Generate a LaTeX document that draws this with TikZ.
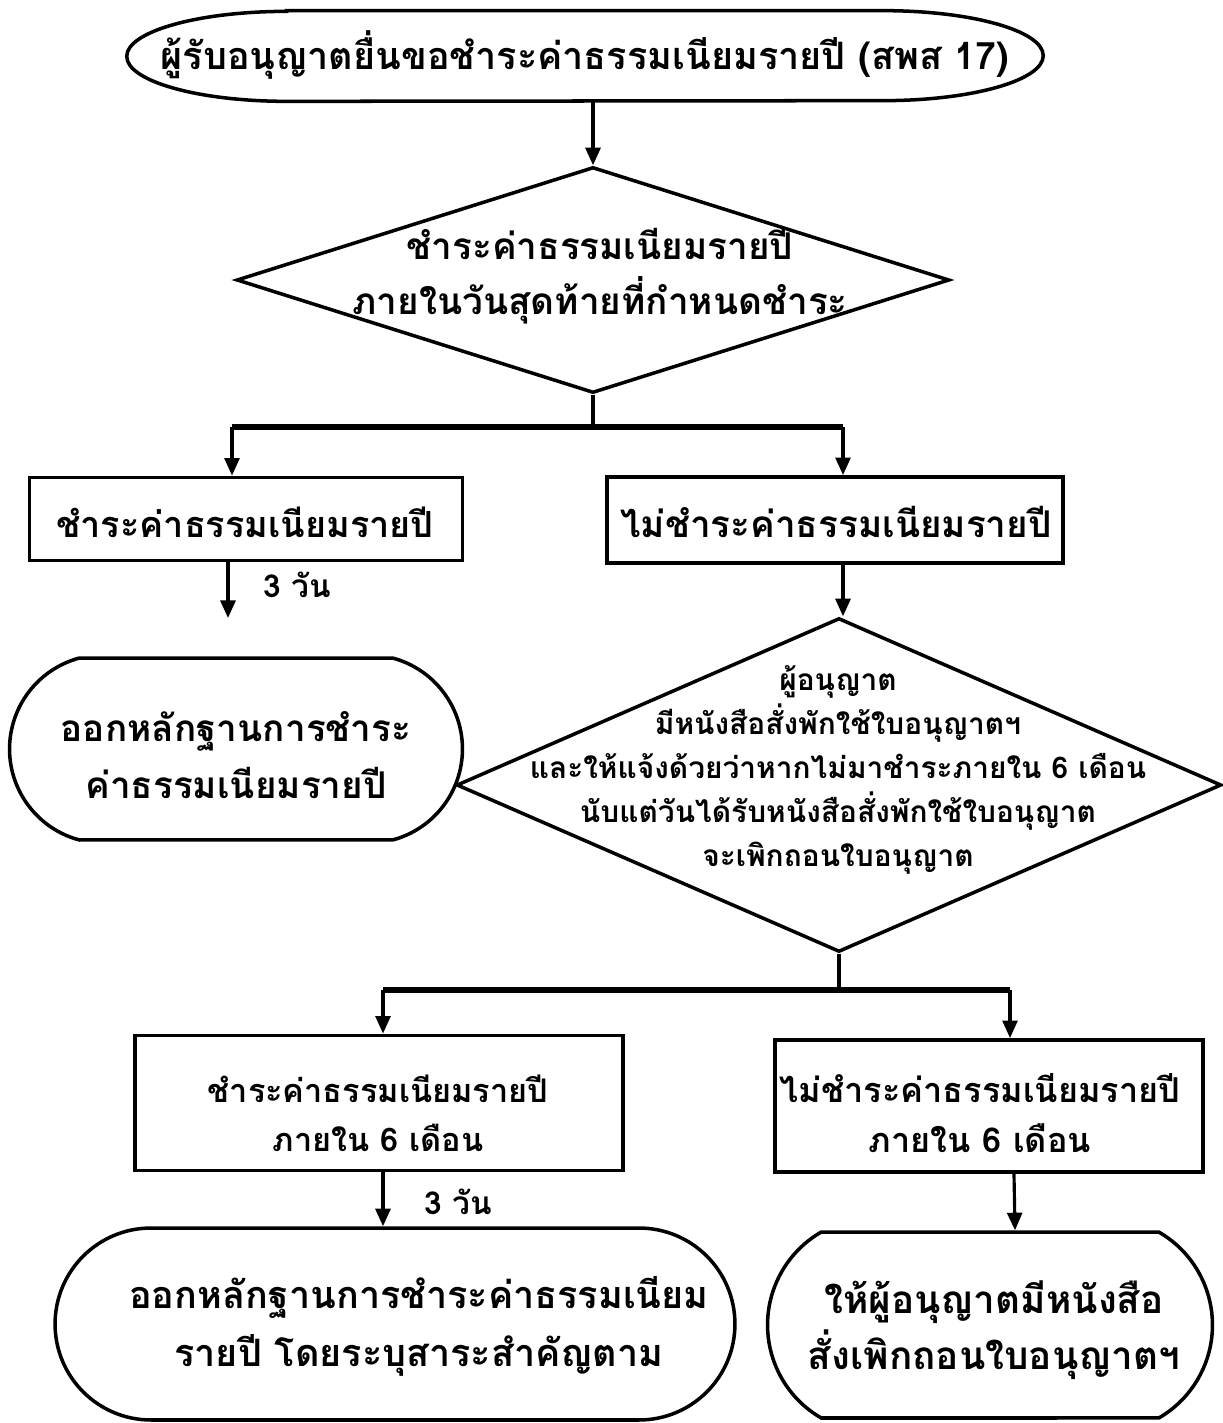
\documentclass[tikz,border=0pt]{standalone}
\usepackage{fontspec}
\newfontfamily\thaifont[Script=Thai]{Loma}
\usetikzlibrary{shapes.geometric,shapes.misc,arrows.meta}
\newcommand{\fs}[2]{\thaifont\bfseries\fontsize{#1pt}{#2pt}\selectfont}
\begin{document}
\begin{tikzpicture}[x=0.02cm,y=-0.02cm,
  txt/.style={align=center, inner sep=0pt},
  stepbox/.style={draw, line width=2.2pt, rectangle, inner sep=0pt},
  term/.style={draw, line width=2pt, rounded rectangle, inner sep=0pt},
  dia/.style={draw, line width=2pt, diamond, inner sep=0pt},
  arr/.style={line width=1.8pt, -{Triangle[length=10pt,width=8.5pt]}},
  split/.style={line width=3.4pt}]
\useasboundingbox (0,0) rectangle (1223,1423);

% start
\node[rectangle, minimum width=18.32cm, minimum height=1.8cm] (start) at (585,56) {};
\draw[line width=2pt] ([xshift=3.2cm]start.north west) -- ([xshift=-3.2cm]start.north east)
  arc[start angle=90, end angle=-90, x radius=3.2cm, y radius=0.9cm]
  -- ([xshift=3.2cm]start.south west)
  arc[start angle=270, end angle=90, x radius=3.2cm, y radius=0.9cm] -- cycle;
\node[txt, font=\fs{21.5}{30}] (startt) at (585,55) {ผู้รับอนุญาตยื่นขอชำระค่าธรรมเนียมรายปี (สพส 17)};

% first check
\node[dia, minimum width=14.26cm, minimum height=4.52cm] (d1) at (593,280) {};
\node[txt, font=\fs{21}{31}] (d1t) at (600,276) {ชำระค่าธรรมเนียมรายปี\\ภายในวันสุดท้ายที่กำหนดชำระ};
\draw[arr] (start.south -| d1.north) -- (d1.north);

\node[stepbox, minimum width=8.66cm, minimum height=1.66cm] (paid) at (246,519) {};
\node[txt, font=\fs{20.5}{30}] (paidt) at (245,522) {ชำระค่าธรรมเนียมรายปี};
\node[stepbox, minimum width=9.12cm, minimum height=1.72cm] (unpaid) at (835,520) {};
\node[txt, font=\fs{21}{30}] (unpaidt) at (836,522) {ไม่ชำระค่าธรรมเนียมรายปี};

\coordinate (s1) at (593,427);
\coordinate (s1l) at (232,427);
\coordinate (s1r) at (843,427);
\draw[line width=2.2pt] (d1.south) -- (s1);
\draw[split] (s1l) -- (s1r);
\draw[arr] (s1l) -- (s1l |- paid.north);
\draw[arr] (s1r) -- (s1r |- unpaid.north);

% receipt
\node[term, rounded rectangle arc length=150, minimum width=9.06cm, minimum height=3.64cm] (rcpt) at (236,749) {};
\node[txt, font=\fs{21}{32}] (rcptt) at (236,755) {ออกหลักฐานการชำระ\\ค่าธรรมเนียมรายปี};
\coordinate (e1) at (228,618);
\draw[arr] (paid.south -| e1) -- (e1);
\node[txt, font=\fs{18}{24}] (days1) at (297,585) {3 วัน};

% second check
\node[dia, minimum width=15.3cm, minimum height=6.68cm] (d2) at (839,785) {};
\node[txt, font=\fs{17}{25}] (d2t) at (838,770) {ผู้อนุญาต\\มีหนังสือสั่งพักใช้ใบอนุญาตฯ\\และให้แจ้งด้วยว่าหากไม่มาชำระภายใน 6 เดือน\\นับแต่วันได้รับหนังสือสั่งพักใช้ใบอนุญาต\\จะเพิกถอนใบอนุญาต};
\draw[arr] (unpaid.south -| s1r) -- (s1r |- d2.north);

\node[stepbox, minimum width=9.76cm, minimum height=2.7cm] (paid6) at (379,1103) {};
\node[txt, font=\fs{18.5}{28}] (paid6t) at (378,1113) {ชำระค่าธรรมเนียมรายปี\\ภายใน 6 เดือน};
\node[stepbox, minimum width=8.56cm, minimum height=2.64cm] (unpaid6) at (989,1106) {};
\node[txt, font=\fs{19.5}{28}] (unpaid6t) at (980,1113) {ไม่ชำระค่าธรรมเนียมรายปี\\ภายใน 6 เดือน};

\coordinate (s2) at (839,990);
\coordinate (s2l) at (383,990);
\coordinate (s2r) at (1010,990);
\draw[line width=2.2pt] (d2.south) -- (s2);
\draw[split] (s2l) -- (s2r);
\draw[arr] (s2l) -- (s2l |- paid6.north);
\draw[arr] (s2r) -- (s2r |- unpaid6.north);

% results
\node[term, rounded rectangle arc length=180, minimum width=13.6cm, minimum height=3.84cm] (rcpt6) at (395,1324) {};
\node[txt, font=\fs{21.5}{33}] (rcpt6t) at (419,1326) {ออกหลักฐานการชำระค่าธรรมเนียม\\รายปี โดยระบุสาระสำคัญตาม};
\node[term, rounded rectangle arc length=120, minimum width=8.9cm, minimum height=3.72cm] (revoke) at (990,1325) {};
\node[txt, font=\fs{22}{32}] (revoket) at (994,1330) {ให้ผู้อนุญาตมีหนังสือ\\สั่งเพิกถอนใบอนุญาตฯ};
\draw[arr] (s2l |- paid6.south) -- (s2l |- rcpt6.north);
\node[txt, font=\fs{18}{24}] (days2) at (458,1202) {3 วัน};
\draw[arr] ([xshift=0.5cm]unpaid6.south) -- ([xshift=0.5cm]revoke.north);
\end{tikzpicture}
\end{document}
